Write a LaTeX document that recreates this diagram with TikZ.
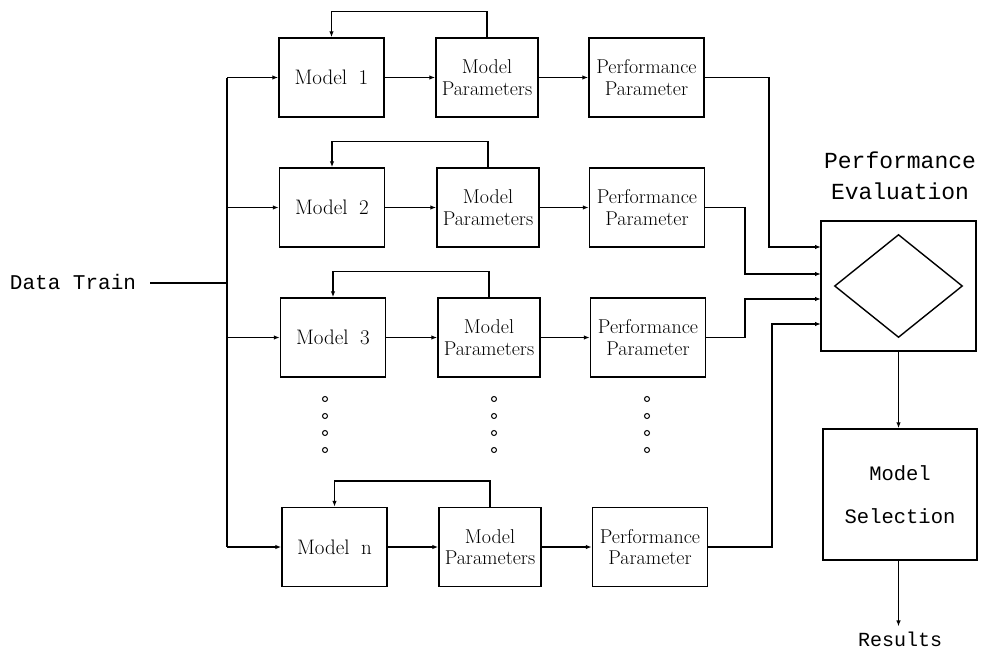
\documentclass[tikz,border=0pt]{standalone}
\usepackage{fontspec}
\newfontfamily\tyfont{Liberation Mono}
\usetikzlibrary{arrows.meta,shapes.geometric}
\begin{document}
\begin{tikzpicture}[x=1pt,y=-1pt,
  every node/.style={inner sep=0pt},
  blk/.style={draw,line width=1.4pt,inner sep=0pt,align=center},
  mbox/.style={blk,minimum width=105pt,minimum height=79pt,font=\fontsize{21}{26}\selectfont},
  pbox/.style={blk,minimum width=102pt,minimum height=79pt,font=\fontsize{20}{21.5}\selectfont},
  qbox/.style={blk,minimum width=115pt,minimum height=79pt,font=\fontsize{20}{21.5}\selectfont},
  wire/.style={line width=1.4pt},
  arr/.style={wire,-{Latex[length=6pt,width=4.5pt]}},
  tw/.style={font=\tyfont\fontsize{21}{31}\selectfont,align=center},
  dotc/.style={line width=1pt}
]
\useasboundingbox (0,0) rectangle (984,655);

% input label and distribution bus
\node[tw] (dt) at (73,282) {Data Train};
\coordinate (bt) at (227,78);
\coordinate (bj) at (227,283);
\coordinate (bb) at (227,547);
\draw[wire] ([xshift=14pt]dt.east |- bj) -- (bj);
\draw[wire] (bt) -- (bb);

% row 1
\node[mbox] (m1) at (331.5,77.5) {Model\hspace{0.55em}1};
\node[pbox] (p1) at (487,77.5) {Model\\Parameters};
\node[qbox] (q1) at (646.5,77.5) {Performance\\Parameter};
% row 2
\node[mbox] (m2) at (332,207.5) {Model\hspace{0.55em}2};
\node[pbox] (p2) at (488,207.5) {Model\\Parameters};
\node[qbox] (q2) at (647,207.5) {Performance\\Parameter};
% row 3
\node[mbox] (m3) at (333,337.5) {Model\hspace{0.55em}3};
\node[pbox] (p3) at (489,337.5) {Model\\Parameters};
\node[qbox] (q3) at (648,337.5) {Performance\\Parameter};
% row n
\node[mbox] (mn) at (334.5,547) {Model\hspace{0.55em}n};
\node[pbox] (pn) at (490,547) {Model\\Parameters};
\node[qbox] (qn) at (650,547) {Performance\\Parameter};

% ellipsis between row 3 and row n
\foreach \x in {325,494,647}
  \foreach \y in {399,416,433,450}
    \draw[dotc] (\x,\y) circle (2.5);

% bus feeds and chain inside each row, with parameter feedback
\foreach \r in {1,2,3,n}{
  \draw[arr] (m\r.west -| bt) -- (m\r.west);
  \draw[arr] (m\r.east) -- (p\r.west);
  \draw[arr] (p\r.east) -- (q\r.west);
  \draw[arr] (p\r.north) -- ++(0,-26) -| (m\r.north);
}

% performance evaluation block
\node[blk,minimum width=155pt,minimum height=130pt] (pe) at (898.5,286) {};
\node[draw,line width=1.4pt,shape=diamond,minimum width=128pt,minimum height=103pt] (dm) at (pe.center) {};
\node[tw,font=\tyfont\fontsize{23}{31}\selectfont] (pel) at (900,176) {Performance\\Evaluation};

\coordinate (in1) at (821,247);
\coordinate (in2) at (821,274);
\coordinate (in3) at (821,299);
\coordinate (in4) at (821,324);
\coordinate (j1) at (769,247);
\coordinate (j2) at (745,274);
\coordinate (j3) at (745,299);
\coordinate (j4) at (772,324);
\draw[arr] (q1.east) -| (j1) -- (in1);
\draw[arr] (q2.east) -| (j2) -- (in2);
\draw[arr] (q3.east) -| (j3) -- (in3);
\draw[arr] (qn.east) -| (j4) -- (in4);

% model selection and result
\node[blk,minimum width=154pt,minimum height=131pt,font=\tyfont\fontsize{20.5}{43}\selectfont] (ms) at (900,494.5) {Model\\Selection};
\draw[arr] (pe.south) -- (pe.south |- ms.north);
\node[tw,font=\tyfont\fontsize{20}{24}\selectfont] (res) at (900,639) {Results};
\draw[arr] (ms.south -| pe.south) -- ([yshift=5pt]res.north -| pe.south);
\end{tikzpicture}
\end{document}
